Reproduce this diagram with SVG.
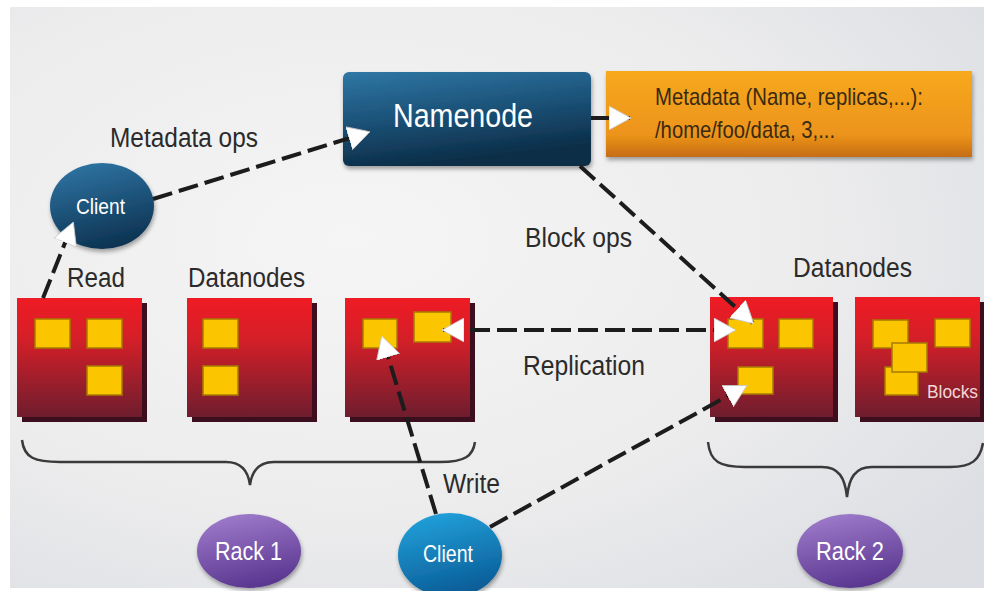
<svg xmlns="http://www.w3.org/2000/svg" width="984" height="591" viewBox="0 0 984 591">
<defs>
  <radialGradient id="bg" cx="0.35" cy="0.4" r="0.8">
    <stop offset="0" stop-color="#f5f5f5"/>
    <stop offset="0.6" stop-color="#ececed"/>
    <stop offset="1" stop-color="#dcdee3"/>
  </radialGradient>
  <linearGradient id="nn" x1="0" y1="0" x2="0.3" y2="1">
    <stop offset="0" stop-color="#2f77a6"/>
    <stop offset="0.55" stop-color="#1a4f74"/>
    <stop offset="1" stop-color="#0c2d47"/>
  </linearGradient>
  <linearGradient id="meta" x1="0" y1="0" x2="0" y2="1">
    <stop offset="0" stop-color="#f7a91f"/>
    <stop offset="0.75" stop-color="#ec931a"/>
    <stop offset="1" stop-color="#c56d14"/>
  </linearGradient>
  <linearGradient id="red" x1="0" y1="0" x2="0" y2="1">
    <stop offset="0" stop-color="#ef1b24"/>
    <stop offset="0.35" stop-color="#d41f28"/>
    <stop offset="1" stop-color="#6e1d2e"/>
  </linearGradient>
  <linearGradient id="c1" x1="0.2" y1="0" x2="0.5" y2="1">
    <stop offset="0" stop-color="#2f75a4"/>
    <stop offset="1" stop-color="#0d3352"/>
  </linearGradient>
  <linearGradient id="c2" x1="0.2" y1="0" x2="0.5" y2="1">
    <stop offset="0" stop-color="#22a2dc"/>
    <stop offset="1" stop-color="#0a5c96"/>
  </linearGradient>
  <linearGradient id="rk" x1="0.2" y1="0" x2="0.5" y2="1">
    <stop offset="0" stop-color="#a07ccc"/>
    <stop offset="1" stop-color="#5a3790"/>
  </linearGradient>
  <filter id="sh" x="-20%" y="-20%" width="140%" height="150%">
    <feDropShadow dx="1" dy="3" stdDeviation="2" flood-color="#000" flood-opacity="0.35"/>
  </filter>
  <marker id="ah" viewBox="0 0 22 24" markerWidth="22" markerHeight="24" refX="21" refY="12" orient="auto-start-reverse" markerUnits="userSpaceOnUse">
    <path d="M0,0 L22,12 L0,24 Z" fill="#ffffff" stroke="#c8c8c8" stroke-width="0.8"/>
  </marker>
  <style>
    .lbl { font-family: "Liberation Sans", Arial, sans-serif; fill: #2b2b2b; font-size: 27px; }
    .wt { font-family: "Liberation Sans", Arial, sans-serif; fill: #ffffff; }
    .dn { fill: url(#red); }
    .dsh { fill: #3d0f1e; }
    .blk { fill: #fbc500; stroke: #a87a00; stroke-width: 1.5; }
    .dash { fill: none; stroke: #1c1c1c; stroke-width: 4; stroke-dasharray: 20 7; marker-end: url(#ah); }
    .brace { fill: none; stroke: #3a3a3a; stroke-width: 2.5; }
  </style>
</defs>

<rect x="0" y="0" width="984" height="591" fill="#ffffff"/>
<rect x="10" y="7" width="974" height="581" fill="url(#bg)"/>

<g id="namenode">
  <rect x="343" y="72" width="248" height="94" rx="6" fill="url(#nn)" filter="url(#sh)"/>
  <text class="wt" x="393" y="127" font-size="34" textLength="140" lengthAdjust="spacingAndGlyphs">Namenode</text>
</g>

<g id="metadata">
  <rect x="606" y="71" width="366" height="86" fill="url(#meta)" filter="url(#sh)"/>
  <text x="655" y="105" font-family="Liberation Sans, Arial, sans-serif" font-size="24" fill="#3a2a12" textLength="268" lengthAdjust="spacingAndGlyphs">Metadata (Name, replicas,...):</text>
  <text x="655" y="138" font-family="Liberation Sans, Arial, sans-serif" font-size="24" fill="#3a2a12" textLength="180" lengthAdjust="spacingAndGlyphs">/home/foo/data, 3,...</text>
</g>

<g id="client-top">
  <ellipse cx="102" cy="206" rx="52" ry="43" fill="url(#c1)" filter="url(#sh)"/>
  <text class="wt" x="76" y="214" font-size="22" textLength="49" lengthAdjust="spacingAndGlyphs">Client</text>
</g>

<g id="labels">
  <text class="lbl" x="110" y="147" textLength="148" lengthAdjust="spacingAndGlyphs">Metadata ops</text>
  <text class="lbl" x="67" y="287" textLength="58" lengthAdjust="spacingAndGlyphs">Read</text>
  <text class="lbl" x="188" y="287" textLength="117" lengthAdjust="spacingAndGlyphs">Datanodes</text>
  <text class="lbl" x="525" y="247" textLength="107" lengthAdjust="spacingAndGlyphs">Block ops</text>
  <text class="lbl" x="793" y="277" textLength="119" lengthAdjust="spacingAndGlyphs">Datanodes</text>
  <text class="lbl" x="523" y="375" textLength="122" lengthAdjust="spacingAndGlyphs">Replication</text>
  <text class="lbl" x="443" y="493" font-size="29" textLength="57" lengthAdjust="spacingAndGlyphs">Write</text>
</g>

<g id="datanode-1">
  <rect class="dsh" x="22" y="303" width="125" height="119"/>
  <rect class="dn" x="17" y="298" width="125" height="119"/>
  <rect class="blk" x="35" y="319" width="35" height="29"/>
  <rect class="blk" x="87" y="319" width="35" height="29"/>
  <rect class="blk" x="87" y="366" width="35" height="29"/>
</g>

<g id="datanode-2">
  <rect class="dsh" x="192" y="303" width="125" height="119"/>
  <rect class="dn" x="187" y="298" width="125" height="119"/>
  <rect class="blk" x="203" y="319" width="35" height="29"/>
  <rect class="blk" x="203" y="366" width="35" height="29"/>
</g>

<g id="datanode-3">
  <rect class="dsh" x="350" y="303" width="125" height="119"/>
  <rect class="dn" x="345" y="298" width="125" height="119"/>
  <rect class="blk" x="363" y="319" width="34" height="29"/>
  <rect class="blk" x="414" y="312" width="37" height="30"/>
</g>

<g id="datanode-4">
  <rect class="dsh" x="715" y="302" width="123" height="120"/>
  <rect class="dn" x="710" y="297" width="123" height="120"/>
  <rect class="blk" x="728" y="319" width="35" height="29"/>
  <rect class="blk" x="779" y="319" width="34" height="29"/>
  <rect class="blk" x="738" y="367" width="35" height="27"/>
</g>

<g id="datanode-5">
  <rect class="dsh" x="860" y="302" width="124" height="120"/>
  <rect class="dn" x="855" y="297" width="125" height="120"/>
  <rect class="blk" x="873" y="320" width="35" height="28"/>
  <rect class="blk" x="935" y="319" width="35" height="28"/>
  <rect class="blk" x="885" y="367" width="33" height="28"/>
  <rect class="blk" x="892" y="343" width="35" height="29"/>
  <text x="927" y="398" font-family="Liberation Sans, Arial, sans-serif" font-size="18" fill="#f2d6d6" textLength="51" lengthAdjust="spacingAndGlyphs">Blocks</text>
</g>

<g id="rack-braces">
  <path class="brace" d="M22,440 C24,458 35,462 60,462 L226,462 C241,462 248,470 250,485 C252,470 259,462 274,462 L440,462 C465,462 473,456 475,442"/>
  <path class="brace" d="M708,442 C710,462 720,467 745,467 L822,467 C839,467 845,478 847,497 C849,478 855,467 872,467 L950,467 C972,467 980,460 983,443"/>
</g>

<g id="rack-1">
  <ellipse cx="249" cy="551" rx="52" ry="37" fill="url(#rk)" filter="url(#sh)"/>
  <text class="wt" x="215" y="560" font-size="26" textLength="67" lengthAdjust="spacingAndGlyphs">Rack 1</text>
</g>

<g id="rack-2">
  <ellipse cx="850" cy="551" rx="53" ry="37" fill="url(#rk)" filter="url(#sh)"/>
  <text class="wt" x="816" y="560" font-size="26" textLength="68" lengthAdjust="spacingAndGlyphs">Rack 2</text>
</g>

<g id="client-bottom">
  <ellipse cx="450" cy="555" rx="52" ry="42" fill="url(#c2)" filter="url(#sh)"/>
  <text class="wt" x="423" y="562" font-size="24" textLength="50" lengthAdjust="spacingAndGlyphs">Client</text>
</g>

<g id="connectors">
  <line class="dash" x1="153" y1="199" x2="369" y2="132"/>
  <line class="dash" x1="43" y1="298" x2="73" y2="223"/>
  <line class="dash" x1="436" y1="514" x2="382" y2="337"/>
  <line class="dash" x1="443" y1="330" x2="735" y2="330" style="marker-start:url(#ah)"/>
  <line class="dash" x1="580" y1="166" x2="753" y2="323"/>
  <line class="dash" x1="490" y1="527" x2="746" y2="386"/>
  <line x1="591" y1="118" x2="630" y2="118" stroke="#1c1c1c" stroke-width="4" marker-end="url(#ah)"/>
</g>
</svg>
